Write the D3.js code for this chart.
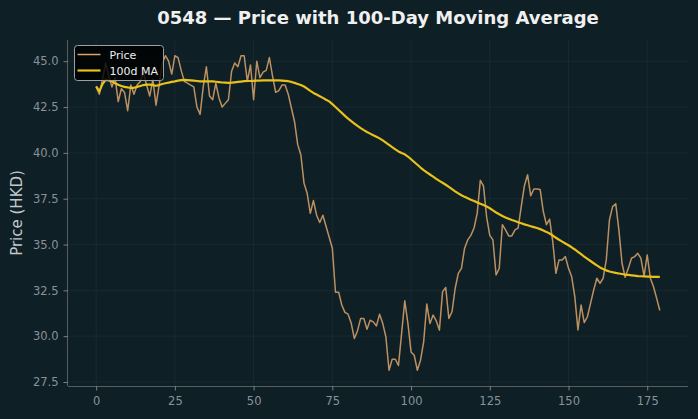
<!DOCTYPE html>
<html>
<head>
<meta charset="utf-8">
<script src="https://cdn.jsdelivr.net/npm/d3@7"></script>
<style>
  html, body { margin: 0; padding: 0; background: #0f1f26; }
  svg { display: block; }
</style>
</head>
<body>
<svg id="chart" width="698" height="419"></svg>
<script>
const titleText = "0548 — Price with 100-Day Moving Average";
const yLabel = "Price (HKD)";
const seriesNames = ["Price", "100d MA"];
const xTicks = [0, 25, 50, 75, 100, 125, 150, 175];
const yTicks = [27.5, 30.0, 32.5, 35.0, 37.5, 40.0, 42.5, 45.0];

const price = [
  43.6, 43.2, 44.0, 44.9, 44.2, 43.6, 44.1, 42.8, 43.5, 43.3,
  42.3, 43.7, 43.2, 43.7, 43.9, 44.4, 43.7, 43.1, 44.0, 42.6,
  43.7, 44.9, 45.3, 45.0, 44.3, 45.3, 45.2, 44.5, 43.9, 43.8,
  43.7, 43.6, 42.5, 42.1, 43.6, 44.7, 43.1, 42.9, 43.8, 43.0,
  42.5, 42.7, 42.9, 44.45, 44.9, 44.7, 45.3, 45.3, 43.9, 44.8,
  42.9, 45.0, 44.1, 44.4, 44.5, 45.2, 44.2, 43.3, 43.4, 43.7,
  43.7, 43.2, 42.45, 41.7, 40.45, 39.9, 38.35, 37.8, 36.7, 37.4,
  36.6, 36.2, 36.6, 36.0, 35.4, 34.8, 32.4, 32.4, 31.7, 31.3,
  31.2, 30.7, 29.87, 30.3, 30.97, 30.97, 30.38, 30.87, 30.78, 30.56,
  31.2, 30.7, 29.97, 28.14, 28.74, 28.74, 28.4, 30.15, 31.93, 30.7,
  29.14, 28.96, 28.14, 28.69, 29.69, 31.75, 30.69, 31.15, 30.84, 30.33,
  32.42, 32.66, 30.97, 31.33, 32.6, 33.43, 33.7, 34.8, 35.25, 35.5,
  35.9, 36.7, 38.5, 38.2, 36.5, 35.5, 35.25, 33.34, 33.7, 36.08,
  35.8, 35.47, 35.47, 35.8, 35.9, 37.08, 38.21, 38.81, 37.66, 38.03,
  38.03, 38.0, 36.8, 36.08, 36.39, 35.16, 33.43, 34.16, 34.16, 34.35,
  33.7, 33.25, 32.16, 30.34, 31.7, 30.74, 31.06, 31.79, 32.52, 33.16,
  32.88, 33.16, 34.16, 36.34, 37.07, 37.22, 35.8, 33.98, 33.21, 33.7,
  34.25, 34.34, 34.52, 34.25, 33.28, 34.43, 33.16, 32.7, 32.06, 31.4
];

const ma100 = [
  43.63, 43.36, 43.75, 43.98, 43.95, 43.9, 43.8, 43.72, 43.65, 43.6,
  43.57, 43.55, 43.55, 43.6, 43.65, 43.7, 43.72, 43.72, 43.7, 43.66,
  43.7, 43.76, 43.8, 43.83, 43.87, 43.9, 43.94, 43.97, 43.98, 43.97,
  43.96, 43.94, 43.92, 43.9, 43.9, 43.9, 43.9, 43.9, 43.88, 43.86,
  43.84, 43.83, 43.82, 43.83, 43.85, 43.87, 43.89, 43.91, 43.92, 43.92,
  43.93, 43.94, 43.94, 43.95, 43.96, 43.96, 43.96, 43.96, 43.95, 43.94,
  43.93, 43.91, 43.87, 43.82, 43.76, 43.7, 43.62, 43.5, 43.38, 43.27,
  43.18, 43.09, 43.0, 42.9, 42.81, 42.66, 42.5, 42.34, 42.18, 42.02,
  41.87, 41.73, 41.6, 41.47, 41.35, 41.24, 41.14, 41.05, 40.96, 40.88,
  40.79, 40.68, 40.56, 40.44, 40.31, 40.19, 40.08, 39.99, 39.92, 39.8,
  39.65, 39.5, 39.35, 39.2, 39.06, 38.94, 38.82, 38.7, 38.58, 38.47,
  38.37, 38.26, 38.14, 38.02, 37.9, 37.79, 37.69, 37.6, 37.52, 37.44,
  37.37, 37.3, 37.23, 37.16, 37.08, 36.98, 36.86, 36.75, 36.65, 36.56,
  36.48, 36.41, 36.34, 36.28, 36.22, 36.16, 36.1, 36.05, 36.0, 35.95,
  35.9, 35.84, 35.77, 35.69, 35.6, 35.49, 35.37, 35.26, 35.16, 35.06,
  34.96, 34.85, 34.73, 34.6, 34.47, 34.34, 34.22, 34.1, 33.98, 33.86,
  33.75, 33.66, 33.59, 33.53, 33.49, 33.45, 33.42, 33.39, 33.36, 33.34,
  33.32, 33.3, 33.28, 33.27, 33.26, 33.25, 33.25, 33.24, 33.24, 33.24
];

const W = 698, H = 419;
const m = { left: 68, right: 10, top: 40, bottom: 33 };
const svg = d3.select("#chart");
const font = "'DejaVu Sans', Verdana, sans-serif";

svg.append("rect").attr("width", W).attr("height", H).attr("fill", "#0f1f26");

const n = price.length;
const pad = (n - 1) * 0.05;
const x = d3.scaleLinear().domain([-pad, n - 1 + pad]).range([m.left, W - m.right]);
const allV = price.concat(ma100);
const vMin = d3.min(allV), vMax = d3.max(allV);
const vPad = (vMax - vMin) * 0.05;
const y = d3.scaleLinear().domain([vMin - vPad, vMax + vPad]).range([H - m.bottom, m.top]);

// grid
const g = svg.append("g");
g.selectAll(".vg").data(xTicks).enter().append("line")
  .attr("x1", d => x(d)).attr("x2", d => x(d))
  .attr("y1", m.top).attr("y2", H - m.bottom)
  .attr("stroke", "#1c2c33").attr("stroke-width", 0.8);
g.selectAll(".hg").data(yTicks).enter().append("line")
  .attr("x1", m.left).attr("x2", W - m.right)
  .attr("y1", d => y(d)).attr("y2", d => y(d))
  .attr("stroke", "#1c2c33").attr("stroke-width", 0.8);

// axes
const xAxis = svg.append("g").attr("transform", `translate(0,${H - m.bottom})`)
  .call(d3.axisBottom(x).tickValues(xTicks).tickFormat(d3.format("d")).tickSize(4.5).tickPadding(6));
const yAxis = svg.append("g").attr("transform", `translate(${m.left},0)`)
  .call(d3.axisLeft(y).tickValues(yTicks).tickFormat(d3.format(".1f")).tickSize(4.5).tickPadding(5));
[xAxis, yAxis].forEach(a => {
  a.select(".domain").attr("stroke", "#585e60").attr("stroke-width", 1);
  a.selectAll(".tick line").attr("stroke", "#7a8084");
  a.selectAll(".tick text").attr("fill", "#8a9297").attr("font-size", "11.5px").attr("font-family", font);
});
xAxis.select(".domain").attr("d", `M${m.left},0.5H${W - m.right}`);
yAxis.select(".domain").attr("d", `M-0.5,${H - m.bottom}V${m.top}`);

// lines
const line = d3.line().x((d, i) => x(i)).y(d => y(d));
svg.append("path").datum(price).attr("d", line)
  .attr("fill", "none").attr("stroke", "#dba46c").attr("stroke-opacity", 0.85)
  .attr("stroke-width", 1.5).attr("stroke-linejoin", "round");
svg.append("path").datum(ma100).attr("d", line)
  .attr("fill", "none").attr("stroke", "#e8c11a")
  .attr("stroke-width", 2.2).attr("stroke-linejoin", "round");

// title
svg.append("text").attr("x", (m.left + W - m.right) / 2).attr("y", 24)
  .attr("text-anchor", "middle").attr("fill", "#f0f0f0")
  .attr("font-family", font).attr("font-weight", "bold").attr("font-size", "18px")
  .text(titleText);

// y label
svg.append("text").attr("transform", `translate(22,${(m.top + H - m.bottom) / 2}) rotate(-90)`)
  .attr("text-anchor", "middle").attr("fill", "#c3c8cc")
  .attr("font-family", font).attr("font-size", "15px")
  .text(yLabel);

// legend
const lg = svg.append("g").attr("transform", "translate(74.5,45.5)");
lg.append("rect").attr("width", 89).attr("height", 35).attr("rx", 3)
  .attr("fill", "#000000").attr("fill-opacity", 0.82)
  .attr("stroke", "#9aa0a4").attr("stroke-width", 1);
const colors = ["#dba46c", "#e8c11a"];
const widths = [1.5, 2.2];
seriesNames.forEach((s, i) => {
  const yy = 9 + i * 16;
  lg.append("line").attr("x1", 3).attr("x2", 26).attr("y1", yy).attr("y2", yy)
    .attr("stroke", colors[i]).attr("stroke-width", widths[i]);
  lg.append("text").attr("x", 35).attr("y", yy + 4)
    .attr("fill", "#eeeeee").attr("font-family", font).attr("font-size", "11px")
    .text(s);
});
</script>
</body>
</html>
